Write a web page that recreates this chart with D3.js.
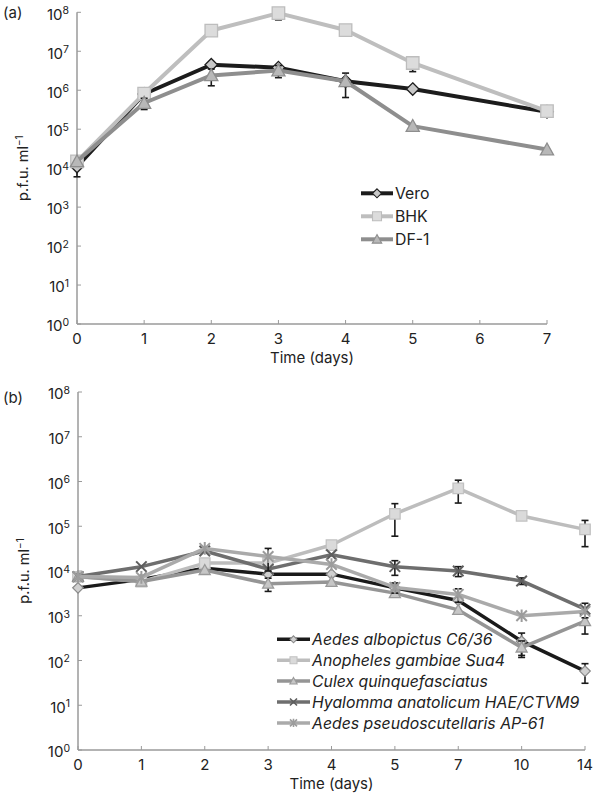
<!DOCTYPE html>
<html><head><meta charset="utf-8">
<script src="https://cdnjs.cloudflare.com/ajax/libs/d3/7.8.5/d3.min.js"></script>
<style>
html,body{margin:0;padding:0;background:#fff;}
svg{display:block;font-family:Inter,"Liberation Sans",Arial,sans-serif;}
</style></head>
<body>
<svg id="chart" width="594" height="796"></svg>
<script>
// ---------- Panel (a) data ----------
const daysA = [0, 1, 2, 3, 4, 5, 7];
const xTicksA = [0, 1, 2, 3, 4, 5, 6, 7];
const vero = [1.1e4, 8.0e5, 4.5e6, 3.8e6, 1.7e6, 1.07e6, 2.8e5];
const veroErr = [5e3, 0, 0, 0, 1.05e6, 0, 7e4];
const bhk = [1.5e4, 8.2e5, 3.4e7, 9.5e7, 3.5e7, 5.0e6, 2.9e5];
const bhkErr = [0, 0, 0, 3.1e7, 0, 2e6, 0];
const df1 = [1.5e4, 4.7e5, 2.4e6, 3.2e6, 1.7e6, 1.2e5, 3.0e4];
const df1Err = [0, 1.5e5, 1.1e6, 1.1e6, 0, 0, 0];
const namesA = ["Vero", "BHK", "DF-1"];

// ---------- Panel (b) data ----------
const daysB = ["0", "1", "2", "3", "4", "5", "7", "10", "14"];
const albopictus = [4.2e3, 6.5e3, 1.15e4, 8.5e3, 8.5e3, 4.2e3, 2.2e3, 270, 58];
const albopictusErr = [0, 0, 0, 0, 0, 0, 0, 140, 27];
const gambiae = [7.4e3, 5.8e3, 1.5e4, 1.5e4, 3.8e4, 1.9e5, 7.0e5, 1.7e5, 8.5e4];
const gambiaeErr = [0, 0, 0, 0, 0, 1.3e5, 3.7e5, 0, 5e4];
const culex = [7.5e3, 5.8e3, 1.05e4, 5.2e3, 5.7e3, 3.2e3, 1.35e3, 195, 760];
const culexErr = [0, 0, 0, 1.7e3, 0, 0, 0, 78, 370];
const hyalomma = [7.5e3, 1.25e4, 2.8e4, 1.1e4, 2.3e4, 1.25e4, 1.0e4, 6.0e3, 1.4e3];
const hyalommaErr = [0, 0, 0, 0, 0, 4.5e3, 2.5e3, 1e3, 5e2];
const ap61 = [7.5e3, 7.2e3, 3.2e4, 2.1e4, 1.4e4, 4.3e3, 3.0e3, 1.0e3, 1.25e3];
const ap61Err = [0, 0, 0, 1.1e4, 0, 1.1e3, 1.0e3, 0, 0];
const namesB = ["Aedes albopictus C6/36", "Anopheles gambiae Sua4", "Culex quinquefasciatus",
                "Hyalomma anatolicum HAE/CTVM9", "Aedes pseudoscutellaris AP-61"];

const yTickExps = [0, 1, 2, 3, 4, 5, 6, 7, 8];

const svg = d3.select("#chart");
const AXIS = "#9a9a9a";

function markerPath(type, s) {
  const h = s / 2;
  if (type === "diamond") return `M0,${-h}L${h},0L0,${h}L${-h},0Z`;
  if (type === "square") return `M${-h},${-h}H${h}V${h}H${-h}Z`;
  if (type === "triangle") return `M0,${-h * 1.05}L${h * 1.05},${h * 0.85}L${-h * 1.05},${h * 0.85}Z`;
  if (type === "x") return `M${-h},${-h}L${h},${h}M${-h},${h}L${h},${-h}`;
  if (type === "star") return `M${-h},${-h}L${h},${h}M${-h},${h}L${h},${-h}M0,${-h * 1.2}V${h * 1.2}`;
  return "";
}

function drawPanel(p) {
  const g = svg.append("g");
  const y = d3.scaleLog().domain([1, 1e8]).range([p.bottom, p.top]);
  const x = p.x;

  g.append("line").attr("x1", p.left).attr("x2", p.left).attr("y1", p.top).attr("y2", p.bottom)
    .attr("stroke", AXIS).attr("stroke-width", 1.5);
  g.append("line").attr("x1", p.left).attr("x2", p.right).attr("y1", p.bottom).attr("y2", p.bottom)
    .attr("stroke", AXIS).attr("stroke-width", 1.5);

  yTickExps.forEach(e => {
    const yy = y(Math.pow(10, e));
    g.append("line").attr("x1", p.left).attr("x2", p.left + 4).attr("y1", yy).attr("y2", yy)
      .attr("stroke", AXIS).attr("stroke-width", 1);
    const t = g.append("text").attr("x", p.left - 8).attr("y", yy + 7.3)
      .attr("text-anchor", "end").attr("font-size", 15).attr("fill", "#222");
    t.append("tspan").text("10");
    t.append("tspan").attr("dy", -5.5).attr("font-size", 10.5).text(e);
  });

  p.xTicks.forEach(v => {
    const xx = x(v);
    g.append("line").attr("x1", xx).attr("x2", xx).attr("y1", p.bottom).attr("y2", p.bottom - 4)
      .attr("stroke", AXIS).attr("stroke-width", 1);
    g.append("text").attr("x", xx).attr("y", p.bottom + 19.5).attr("text-anchor", "middle")
      .attr("font-size", 15).attr("fill", "#222").text(v);
  });

  g.append("text").attr("x", (p.left + p.right) / 2).attr("y", p.bottom + 39)
    .attr("text-anchor", "middle").attr("font-size", 15).attr("fill", "#222").text("Time (days)");

  const yt = g.append("text")
    .attr("transform", `translate(${p.left - 49},${(p.top + p.bottom) / 2}) rotate(-90)`)
    .attr("text-anchor", "middle").attr("font-size", 14.5).attr("fill", "#222");
  yt.append("tspan").text("p.f.u. ml");
  yt.append("tspan").attr("dy", -5).attr("font-size", 10).text("\u22121");

  g.append("text").attr("x", 3).attr("y", p.top + p.labelDy).attr("font-size", 15)
    .attr("fill", "#222").text(p.label);

  p.series.forEach(s => {
    const pts = s.values.map((v, i) => ({ x: x(p.domain[i]), v, e: s.err[i] }));
    g.append("path").datum(pts)
      .attr("d", d3.line().x(d => d.x).y(d => y(d.v)))
      .attr("fill", "none").attr("stroke", s.line).attr("stroke-width", p.lw)
      .attr("stroke-linejoin", "round");
    pts.filter(d => d.e > 0).forEach(d => {
      const y1 = y(d.v + d.e), y0 = y(Math.max(d.v - d.e, 1));
      const eg = g.append("g").attr("stroke", "#1a1a1a").attr("stroke-width", 1.6);
      eg.append("line").attr("x1", d.x).attr("x2", d.x).attr("y1", y1).attr("y2", y0);
      eg.append("line").attr("x1", d.x - 3.5).attr("x2", d.x + 3.5).attr("y1", y1).attr("y2", y1);
      eg.append("line").attr("x1", d.x - 3.5).attr("x2", d.x + 3.5).attr("y1", y0).attr("y2", y0);
    });
    g.selectAll(null).data(pts).enter().append("path")
      .attr("transform", d => `translate(${d.x},${y(d.v)})`)
      .attr("d", markerPath(s.marker, p.ms))
      .attr("fill", (s.marker === "x" || s.marker === "star") ? "none" : s.fill)
      .attr("stroke", s.mstroke).attr("stroke-width", (s.marker === "x" || s.marker === "star") ? 2 : 1.3);
  });

  p.series.forEach((s, i) => {
    const ly = p.legY + i * p.legDy;
    g.append("line").attr("x1", p.legX).attr("x2", p.legX + p.legW).attr("y1", ly).attr("y2", ly)
      .attr("stroke", s.line).attr("stroke-width", p.lw);
    g.append("path").attr("transform", `translate(${p.legX + p.legW / 2},${ly})`)
      .attr("d", markerPath(s.marker, p.lms))
      .attr("fill", (s.marker === "x" || s.marker === "star") ? "none" : s.fill)
      .attr("stroke", s.mstroke).attr("stroke-width", (s.marker === "x" || s.marker === "star") ? 1.6 : 1.1);
    g.append("text").attr("x", p.legX + p.legW + 2).attr("y", ly + 5.8)
      .attr("font-size", 15.8).attr("fill", "#222").attr("font-style", p.italic ? "italic" : "normal")
      .text(s.name);
  });
}

drawPanel({
  label: "(a)", labelDy: 6,
  top: 12.3, bottom: 324, left: 77, right: 547,
  x: d3.scaleLinear().domain([0, 7]).range([77, 547]),
  domain: daysA, xTicks: xTicksA, lw: 4, ms: 12.5, lms: 9,
  legX: 361, legY: 193.3, legDy: 23, legW: 32, italic: false,
  series: [
    { name: namesA[0], values: vero, err: veroErr, line: "#1c1c1c", fill: "#c8c8c8", mstroke: "#1c1c1c", marker: "diamond" },
    { name: namesA[1], values: bhk, err: bhkErr, line: "#bebebe", fill: "#dcdcdc", mstroke: "#bdbdbd", marker: "square" },
    { name: namesA[2], values: df1, err: df1Err, line: "#8e8e8e", fill: "#b8b8b8", mstroke: "#8e8e8e", marker: "triangle" }
  ]
});

const xB = d3.scalePoint().domain(daysB).range([78, 585]);
drawPanel({
  label: "(b)", labelDy: 11,
  top: 392, bottom: 750, left: 78, right: 585,
  x: xB, domain: daysB, xTicks: daysB, lw: 3.5, ms: 10.5, lms: 7,
  legX: 277, legY: 639.3, legDy: 20.9, legW: 33, italic: true,
  series: [
    { name: namesB[0], values: albopictus, err: albopictusErr, line: "#1a1a1a", fill: "#d0d0d0", mstroke: "#8a8a8a", marker: "diamond" },
    { name: namesB[1], values: gambiae, err: gambiaeErr, line: "#bdbdbd", fill: "#dadada", mstroke: "#c2c2c2", marker: "square" },
    { name: namesB[2], values: culex, err: culexErr, line: "#959595", fill: "#c6c6c6", mstroke: "#9a9a9a", marker: "triangle" },
    { name: namesB[3], values: hyalomma, err: hyalommaErr, line: "#6e6e6e", fill: "none", mstroke: "#5e5e5e", marker: "x" },
    { name: namesB[4], values: ap61, err: ap61Err, line: "#aaaaaa", fill: "none", mstroke: "#9c9c9c", marker: "star" }
  ]
});
</script>
</body></html>
